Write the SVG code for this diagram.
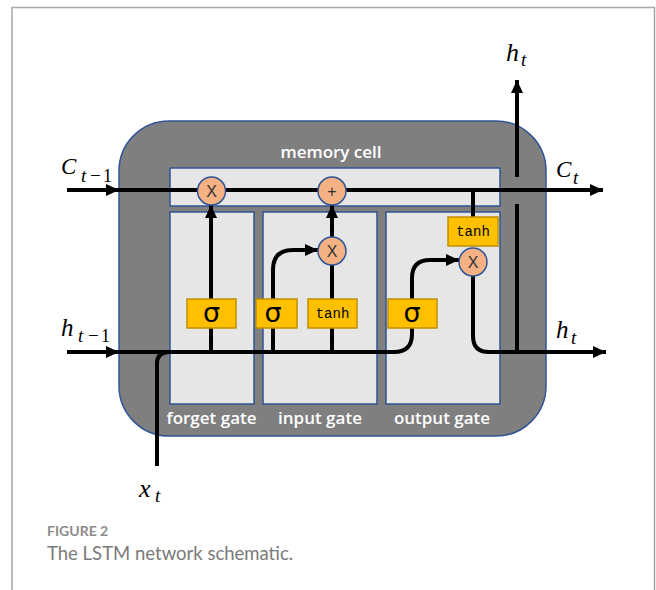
<svg xmlns="http://www.w3.org/2000/svg" width="656" height="590" viewBox="0 0 656 590">
<style>
.frame{fill:none;stroke:#a6a6a6;stroke-width:1.5}
.cell{fill:#7f7f7f;stroke:#2f5597;stroke-width:1.5}
.panel{fill:#e7e6e6;stroke:#2f5597;stroke-width:1.5}
.op{fill:#f4b183;stroke:#2f5597;stroke-width:1.5}
.act{fill:#ffc000;stroke:#bf9000;stroke-width:1.5}
.wire{fill:none;stroke:#000;stroke-width:4}
.head{marker-end:url(#arrow)}
.opt{font-family:"Liberation Sans",Arial,sans-serif;font-size:16px;fill:#333;text-anchor:middle}
.sig{font-family:"DejaVu Sans","Liberation Sans",sans-serif;font-size:27px;fill:#000;text-anchor:middle}
.tanh{font-family:"Liberation Mono","DejaVu Sans Mono",monospace;font-size:14px;fill:#000;text-anchor:middle}
.gl{font-family:"Open Sans","Liberation Sans",sans-serif;font-weight:600;font-size:17px;fill:#fff;text-anchor:middle}
.math{font-family:"Liberation Serif","Times New Roman",serif;font-style:italic;fill:#000}
.up{font-style:normal}
.cap1{font-family:"Lato","Open Sans",sans-serif;font-weight:700;font-size:14px;fill:#8c8c8c}
.cap2{font-family:"Lato","Open Sans",sans-serif;font-size:18.5px;fill:#7a7a7a}
</style>
<defs>
<marker id="arrow" viewBox="0 0 13 12" refX="13" refY="6" markerWidth="13" markerHeight="12" markerUnits="userSpaceOnUse" orient="auto">
<path d="M0,0 L13,6 L0,12 z" fill="#000"/>
</marker>
</defs>
<rect width="656" height="590" fill="#fff"/>
<path class="frame" d="M12,590 V7.5 H654.5 V590"/>

<g id="memory-cell">
<rect class="cell" x="119" y="121" width="427" height="315" rx="50" ry="50"/>
<text class="gl" x="331" y="158" font-weight="700">memory cell</text>
</g>
<g id="cell-state-band"><rect class="panel" x="170" y="168" width="330" height="38"/></g>
<g id="forget-gate">
<rect class="panel" x="170" y="212" width="84" height="192"/>
<text class="gl" x="211.5" y="424">forget gate</text>
</g>
<g id="input-gate">
<rect class="panel" x="263" y="212" width="114" height="192"/>
<text class="gl" x="320" y="424">input gate</text>
</g>
<g id="output-gate">
<rect class="panel" x="386" y="212" width="114" height="192"/>
<text class="gl" x="442" y="424">output gate</text>
</g>

<g id="connectors">
<path class="wire head" d="M67,190 H119"/>
<path class="wire head" d="M119,190 H603"/>
<path class="wire head" d="M67,352 H119"/>
<path class="wire head" d="M119,352 H394 Q412,352 412,334 V278 Q412,260 430,260 H459"/>
<path class="wire" d="M157,466 V364 Q157,352 169,352"/>
<path class="wire head" d="M211,352 V205"/>
<path class="wire head" d="M273,352 V270 Q273,250 293,250 H318"/>
<path class="wire" d="M332,352 V265"/>
<path class="wire head" d="M332,237 V205"/>
<path class="wire" d="M473,190 V217"/>
<path class="wire head" d="M473,276 V336 Q473,352 489,352 H606"/>
<path class="wire" d="M517,352 V204"/>
<path class="wire head" d="M517,177 V80"/>
</g>

<g id="forget-mult"><circle class="op" cx="211.5" cy="191" r="14"/><text class="opt" x="211.5" y="196.8">X</text></g>
<g id="cell-add"><circle class="op" cx="332" cy="191" r="14"/><text class="opt" x="332" y="197" font-size="18">+</text></g>
<g id="input-mult"><circle class="op" cx="332" cy="251" r="14"/><text class="opt" x="332" y="256.8">X</text></g>
<g id="output-mult"><circle class="op" cx="473" cy="262" r="14"/><text class="opt" x="473" y="267.8">X</text></g>

<g id="forget-sigma"><rect class="act" x="187" y="299" width="49" height="29"/><text class="sig" x="211.5" y="322">σ</text></g>
<g id="input-sigma"><rect class="act" x="256" y="299" width="41" height="29"/><text class="sig" x="273" y="322">σ</text></g>
<g id="input-tanh"><rect class="act" x="308" y="299" width="49" height="29"/><text class="tanh" x="332.5" y="318">tanh</text></g>
<g id="output-sigma"><rect class="act" x="388" y="299" width="49" height="29"/><text class="sig" x="412" y="322">σ</text></g>
<g id="output-tanh"><rect class="act" x="448" y="217" width="50" height="29"/><text class="tanh" x="473" y="236">tanh</text></g>

<g id="label-c-prev">
<text class="math" font-size="23" x="61" y="174">C</text>
<text class="math" font-size="19" x="81" y="182">t</text>
<text class="math up" font-size="19" x="90" y="182">−</text>
<text class="math up" font-size="18" x="103" y="182">1</text>
</g>
<g id="label-c-next">
<text class="math" font-size="23" x="556" y="177">C</text>
<text class="math" font-size="19" x="573" y="184">t</text>
</g>
<g id="label-h-top">
<text class="math" font-size="26" x="506" y="61">h</text>
<text class="math" font-size="19" x="521" y="66">t</text>
</g>
<g id="label-h-prev">
<text class="math" font-size="25" x="61" y="336">h</text>
<text class="math" font-size="19" x="78" y="342">t</text>
<text class="math up" font-size="19" x="88" y="342">−</text>
<text class="math up" font-size="18" x="101" y="342">1</text>
</g>
<g id="label-h-next">
<text class="math" font-size="25" x="556" y="338">h</text>
<text class="math" font-size="19" x="571" y="344">t</text>
</g>
<g id="label-x">
<text class="math" font-size="26" x="139" y="497">x</text>
<text class="math" font-size="19" x="155" y="502">t</text>
</g>

<text class="cap1" x="47" y="536">FIGURE 2</text>
<text class="cap2" x="47" y="560">The LSTM network schematic.</text>
</svg>
